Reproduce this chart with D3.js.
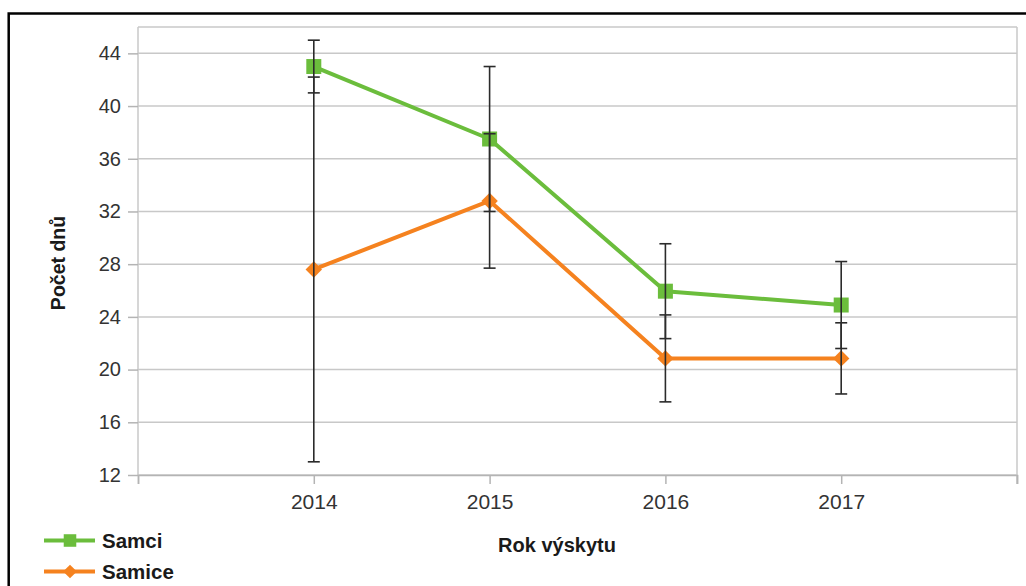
<!DOCTYPE html>
<html>
<head>
<meta charset="utf-8">
<script src="https://cdn.jsdelivr.net/npm/d3@7"></script>
<style>
  html, body { margin: 0; padding: 0; background: #fff; }
  svg { display: block; }
  text { font-family: "Liberation Sans", Arial, sans-serif; }
</style>
</head>
<body>
<svg id="chart" width="1026" height="586"></svg>
<script>
// Years of occurrence and mean number of days per sex, with error margins
const years = [2014, 2015, 2016, 2017];
const samci = [43.0, 37.5, 25.95, 24.9];
const samciErr = [2.0, 5.5, 3.6, 3.3];
const samice = [27.6, 32.8, 20.85, 20.85];
const samiceErr = [14.6, 5.1, 3.3, 2.7];
const yTicks = [12, 16, 20, 24, 28, 32, 36, 40, 44];
const xTicks = [2013, 2014, 2015, 2016, 2017, 2018];
const seriesNames = ["Samci", "Samice"];
const seriesColors = ["#6bbd3c", "#f5821f"];

const svg = d3.select("#chart");
const plot = { left: 138, right: 1017, top: 27, bottom: 475 };

const x = d3.scaleLinear().domain([2013, 2018]).range([plot.left, plot.right]);
const y = d3.scaleLinear().domain([12, 46]).range([plot.bottom, plot.top]);

// Outer frame (left and top edges)
svg.append("path")
  .attr("d", "M8.7,586 V13.5 H1026")
  .attr("fill", "none").attr("stroke", "#000").attr("stroke-width", 2.5);

// Horizontal gridlines
svg.append("g").selectAll("line").data(yTicks.concat([46])).join("line")
  .attr("x1", plot.left).attr("x2", plot.right)
  .attr("y1", d => y(d)).attr("y2", d => y(d))
  .attr("stroke", "#c8c8c8").attr("stroke-width", 1.5);

// Plot border sides
svg.append("line").attr("x1", plot.left).attr("x2", plot.left)
  .attr("y1", plot.top).attr("y2", plot.bottom)
  .attr("stroke", "#c8c8c8").attr("stroke-width", 1.5);
svg.append("line").attr("x1", plot.right).attr("x2", plot.right)
  .attr("y1", plot.top).attr("y2", plot.bottom + 9)
  .attr("stroke", "#c8c8c8").attr("stroke-width", 1.5);

// Y axis
const yAxis = d3.axisLeft(y).tickValues(yTicks).tickSize(10).tickPadding(7)
  .tickFormat(d3.format("d"));
const gy = svg.append("g").attr("transform", `translate(${plot.left},0)`).call(yAxis);
gy.select(".domain").remove();
gy.selectAll(".tick line").attr("stroke", "#b4b4b4").attr("stroke-width", 1.5);
gy.selectAll(".tick text").attr("fill", "#333").style("font-size", "20px")
  .style("font-family", "'Liberation Sans', Arial, sans-serif");

// X axis
const xAxis = d3.axisBottom(x).tickValues(xTicks).tickSize(9).tickPadding(10)
  .tickFormat(d => years.includes(d) ? String(d) : "");
const gx = svg.append("g").attr("transform", `translate(0,${plot.bottom})`).call(xAxis);
gx.select(".domain").attr("stroke", "#b4b4b4").attr("stroke-width", 1.5);
gx.selectAll(".tick line").attr("stroke", "#b4b4b4").attr("stroke-width", 1.5);
gx.selectAll(".tick text").attr("fill", "#333").style("font-size", "21px")
  .style("font-family", "'Liberation Sans', Arial, sans-serif");

// Axis titles
svg.append("text")
  .attr("transform", "translate(65,263) rotate(-90)")
  .attr("text-anchor", "middle")
  .attr("font-weight", "bold").attr("font-size", 19.5).attr("fill", "#1a1a1a")
  .text("Počet dnů");
svg.append("text")
  .attr("x", 557).attr("y", 552)
  .attr("text-anchor", "middle")
  .attr("font-weight", "bold").attr("font-size", 20).attr("fill", "#1a1a1a")
  .text("Rok výskytu");

// Markers: a square for males, a square turned 45° for females
const series = [
  { name: seriesNames[0], values: samci, err: samciErr, color: seriesColors[0], size: 225, rot: 0 },
  { name: seriesNames[1], values: samice, err: samiceErr, color: seriesColors[1], size: 135, rot: 45 }
];

const line = d3.line().x(d => x(d.year)).y(d => y(d.value));

series.forEach(s => {
  const pts = years.map((yr, i) => ({ year: yr, value: s.values[i] }));
  svg.append("path").datum(pts)
    .attr("d", line)
    .attr("fill", "none").attr("stroke", s.color).attr("stroke-width", 4)
    .attr("stroke-linejoin", "round");
  svg.append("g").selectAll("path").data(pts).join("path")
    .attr("transform", d => `translate(${x(d.year)},${y(d.value)}) rotate(${s.rot})`)
    .attr("d", d3.symbol().type(d3.symbolSquare).size(s.size))
    .attr("fill", s.color);
});

// Error bars drawn over the markers
const capHalf = 6;
series.forEach(s => {
  const g = svg.append("g").attr("stroke", "#2b2b2b").attr("stroke-width", 1.6);
  years.forEach((yr, i) => {
    const cx = x(yr);
    const lo = y(s.values[i] - s.err[i]);
    const hi = y(s.values[i] + s.err[i]);
    g.append("line").attr("x1", cx).attr("x2", cx).attr("y1", lo).attr("y2", hi);
    g.append("line").attr("x1", cx - capHalf).attr("x2", cx + capHalf).attr("y1", lo).attr("y2", lo);
    g.append("line").attr("x1", cx - capHalf).attr("x2", cx + capHalf).attr("y1", hi).attr("y2", hi);
  });
});

// Legend
const legend = svg.append("g");
series.forEach((s, i) => {
  const ly = 540.5 + i * 31;
  legend.append("line").attr("x1", 44).attr("x2", 95).attr("y1", ly).attr("y2", ly)
    .attr("stroke", s.color).attr("stroke-width", 4);
  legend.append("path")
    .attr("transform", `translate(70,${ly}) rotate(${s.rot})`)
    .attr("d", d3.symbol().type(d3.symbolSquare).size(s.size * 0.7))
    .attr("fill", s.color);
  legend.append("text")
    .attr("x", 102).attr("y", ly + 7)
    .attr("font-weight", "bold").attr("font-size", 20.5).attr("fill", "#1a1a1a")
    .text(s.name);
});
</script>
</body>
</html>
